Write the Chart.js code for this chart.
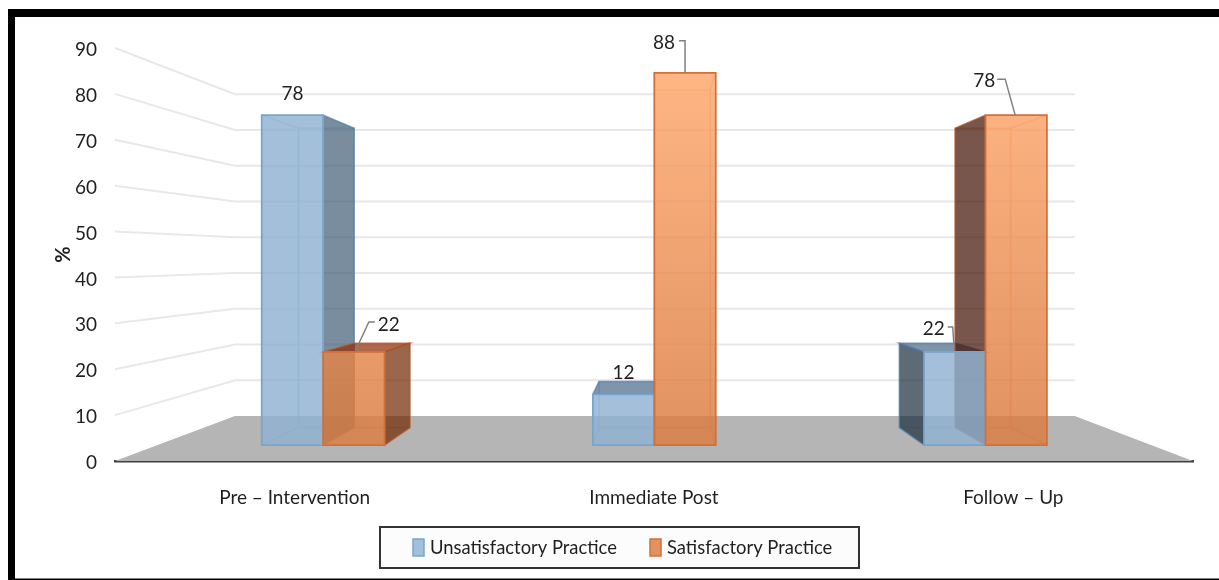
<!DOCTYPE html>
<html>
<head>
<meta charset="utf-8">
<title>Practice by phase</title>
<style>
  html, body { margin: 0; padding: 0; background: #fff; }
  canvas { display: block; }
</style>
<script src="https://cdn.jsdelivr.net/npm/chart.js@4/dist/chart.umd.js"></script>
</head>
<body>
<canvas id="practiceChart" width="1219" height="580"></canvas>
<script>
const categories = ['Pre \u2013 Intervention', 'Immediate Post', 'Follow \u2013 Up'];
const unsatisfactory = [78, 12, 22];
const satisfactory = [22, 88, 78];
const seriesNames = ['Unsatisfactory Practice', 'Satisfactory Practice'];

const textColor = '#1f1f1f';
const fontFamily = 'Lato, sans-serif';
const fontSize = 19;

// Perspective of the fake 3D box: depth 1 is the axis plane, lower is further back.
const vanish = { x: 658, y: 257 };
const wallDepth = 0.779;
const barFrontDepth = 0.9216;
const barBackDepth = 0.836;

const barStyles = [
    {
        front: () => 'rgba(143,177,209,0.82)',
        edge: '#78a5cc',
        sideEdge: 'rgba(84,128,168,0.6)',
        inner: 'rgba(108,156,198,0.35)',
        rightSide: 'rgba(65,93,118,0.7)',
        leftSide: 'rgba(23,44,60,0.7)',
        top: 'rgba(73,104,135,0.7)',
    },
    {
        front: (ctx) => {
            const g = ctx.createLinearGradient(0, 73, 0, 420);
            g.addColorStop(0, 'rgba(255,165,105,0.82)');
            g.addColorStop(1, 'rgba(220,124,64,0.82)');
            return g;
        },
        edge: '#d2703a',
        sideEdge: 'rgba(176,88,40,0.6)',
        inner: 'rgba(201,101,46,0.35)',
        rightSide: 'rgba(111,39,0,0.7)',
        leftSide: 'rgba(62,14,0,0.7)',
        top: 'rgba(143,41,0,0.7)',
    },
];

// Value labels sit relative to the top centre of the bar's front face; some have a leader line.
const callouts = [
    [
        { dx: 0, dy: -21 },
        { dx: 0, dy: -21 },
        { dx: -21, dy: -23, leader: [[-1, -9], [-2, -25], [-7, -25]] },
    ],
    [
        { dx: 35, dy: -27, leader: [[1, 0], [15, -30], [21, -30]] },
        { dx: -21, dy: -30, leader: [[0, 0], [0, -32], [-6, -32]] },
        { dx: -32, dy: -34, leader: [[-1, 0], [-11, -36], [-19, -36]] },
    ],
];

function project(x, y, depth) {
    return { x: vanish.x + (x - vanish.x) * depth, y: vanish.y + (y - vanish.y) * depth };
}

function poly(ctx, pts, fill, stroke, width) {
    ctx.beginPath();
    pts.forEach((p, i) => (i ? ctx.lineTo(p.x, p.y) : ctx.moveTo(p.x, p.y)));
    ctx.closePath();
    if (fill) {
        ctx.fillStyle = fill;
        ctx.fill();
    }
    if (stroke) {
        ctx.strokeStyle = stroke;
        ctx.lineWidth = width;
        ctx.stroke();
    }
}

function drawBox(ctx, chart) {
    const { left, right, bottom } = chart.chartArea;
    const yScale = chart.scales.y;

    ctx.lineWidth = 2;
    ctx.strokeStyle = '#e8e8e8';
    yScale.ticks.forEach((t) => {
        if (t.value === 0) return;
        const py = yScale.getPixelForValue(t.value);
        const a = project(left, py, wallDepth);
        const b = project(right, py, wallDepth);
        ctx.beginPath();
        ctx.moveTo(left, py);
        ctx.lineTo(a.x, a.y);
        ctx.lineTo(b.x, b.y);
        ctx.stroke();
    });

    poly(ctx, [
        { x: left, y: bottom },
        { x: right, y: bottom },
        project(right, bottom, wallDepth),
        project(left, bottom, wallDepth),
    ], '#b5b5b5');
}

function barCorners(el) {
    const l = el.x - el.width / 2;
    const r = el.x + el.width / 2;
    const corners = (depth) => ({
        tl: project(l, el.y, depth),
        tr: project(r, el.y, depth),
        bl: project(l, el.base, depth),
        br: project(r, el.base, depth),
    });
    return { f: corners(barFrontDepth), b: corners(barBackDepth) };
}

function forEachBar(chart, fn) {
    chart.data.datasets.forEach((ds, di) => {
        chart.getDatasetMeta(di).data.forEach((el, i) => fn(el, di, i));
    });
}

function drawBarBacks(ctx, el, style) {
    const { f, b } = barCorners(el);

    // edges on the far side show faintly through the translucent faces
    poly(ctx, [b.tl, b.tr, b.br, b.bl], null, style.inner, 1.5);
    ctx.strokeStyle = style.inner;
    ['tl', 'tr', 'bl', 'br'].forEach((p) => {
        ctx.beginPath();
        ctx.moveTo(f[p].x, f[p].y);
        ctx.lineTo(b[p].x, b[p].y);
        ctx.stroke();
    });

    if (b.tr.x > f.tr.x) poly(ctx, [f.tr, b.tr, b.br, f.br], style.rightSide, style.sideEdge, 1.5);
    if (b.tl.x < f.tl.x) poly(ctx, [f.tl, b.tl, b.bl, f.bl], style.leftSide, style.sideEdge, 1.5);
    if (b.tl.y < f.tl.y) poly(ctx, [f.tl, f.tr, b.tr, b.tl], style.top, style.sideEdge, 1.5);
}

function drawBarFront(ctx, el, style) {
    const { f } = barCorners(el);
    poly(ctx, [f.tl, f.tr, f.br, f.bl], style.front(ctx), style.edge, 1.75);
}

function drawCallout(ctx, el, callout, value) {
    const { f } = barCorners(el);
    const cx = (f.tl.x + f.tr.x) / 2;
    const cy = f.tl.y;
    if (callout.leader) {
        ctx.strokeStyle = '#808080';
        ctx.lineWidth = 1.5;
        ctx.beginPath();
        callout.leader.forEach(([dx, dy], i) => {
            if (i) ctx.lineTo(cx + dx, cy + dy);
            else ctx.moveTo(cx + dx, cy + dy);
        });
        ctx.stroke();
    }
    ctx.fillStyle = textColor;
    ctx.font = `${fontSize}px ${fontFamily}`;
    ctx.textAlign = 'center';
    ctx.textBaseline = 'middle';
    ctx.fillText(String(value), cx + callout.dx, cy + callout.dy);
}

function drawLegend(ctx) {
    ctx.fillStyle = '#fcfcfc';
    ctx.fillRect(380, 527, 479, 41);
    ctx.strokeStyle = '#333';
    ctx.lineWidth = 2;
    ctx.strokeRect(380, 527, 479, 41);

    const swatches = [413, 650];
    seriesNames.forEach((name, i) => {
        ctx.fillStyle = i ? '#e2915f' : '#a3bfd9';
        ctx.strokeStyle = barStyles[i].edge;
        ctx.lineWidth = 1.5;
        ctx.fillRect(swatches[i], 539, 11, 17);
        ctx.strokeRect(swatches[i], 539, 11, 17);
        ctx.fillStyle = textColor;
        ctx.font = `18.4px ${fontFamily}`;
        ctx.textAlign = 'left';
        ctx.textBaseline = 'middle';
        ctx.fillText(name, swatches[i] + 17, 548);
    });
}

const bars3d = {
    id: 'bars3d',
    beforeDatasetsDraw(chart) {
        const ctx = chart.ctx;
        ctx.save();
        drawBox(ctx, chart);
        forEachBar(chart, (el, di) => drawBarBacks(ctx, el, barStyles[di]));
        forEachBar(chart, (el, di) => drawBarFront(ctx, el, barStyles[di]));
        forEachBar(chart, (el, di, i) => drawCallout(ctx, el, callouts[di][i], chart.data.datasets[di].data[i]));
        ctx.restore();
        // the flat library bars are replaced by the boxes above
        return false;
    },
    afterDraw(chart) {
        const ctx = chart.ctx;
        ctx.save();
        drawLegend(ctx);
        ctx.fillStyle = '#000';
        ctx.fillRect(8, 9, 1211, 8);
        ctx.fillRect(8, 9, 7, 571);
        ctx.fillRect(8, 578.5, 1211, 1.5);
        ctx.restore();
    },
};

new Chart(document.getElementById('practiceChart'), {
    type: 'bar',
    data: {
        labels: categories,
        datasets: [
            { label: seriesNames[0], data: unsatisfactory, backgroundColor: '#a3bfd9' },
            { label: seriesNames[1], data: satisfactory, backgroundColor: '#e2915f' },
        ],
    },
    plugins: [bars3d],
    options: {
        responsive: false,
        animation: false,
        categoryPercentage: 0.371,
        barPercentage: 1,
        layout: { padding: { top: 48, right: 26, left: 0, bottom: 0 } },
        plugins: {
            legend: { display: false },
            tooltip: { enabled: false },
        },
        scales: {
            x: {
                afterFit: (scale) => { scale.height = 119; },
                grid: { display: false },
                border: { display: true, color: '#404040', width: 2.5 },
                ticks: {
                    color: textColor,
                    padding: 17,
                    maxRotation: 0,
                    font: { family: fontFamily, size: fontSize },
                },
            },
            y: {
                min: 0,
                max: 90,
                afterFit: (scale) => { scale.width = 115; },
                grid: { display: false, drawTicks: false },
                border: { display: false },
                title: {
                    display: true,
                    text: '%',
                    color: textColor,
                    font: { family: fontFamily, size: 20, weight: 'bold' },
                    padding: { top: 52, bottom: 0 },
                },
                ticks: {
                    stepSize: 10,
                    color: textColor,
                    padding: 18,
                    labelOffset: 2,
                    font: { family: fontFamily, size: fontSize },
                },
            },
        },
    },
});
</script>
</body>
</html>
